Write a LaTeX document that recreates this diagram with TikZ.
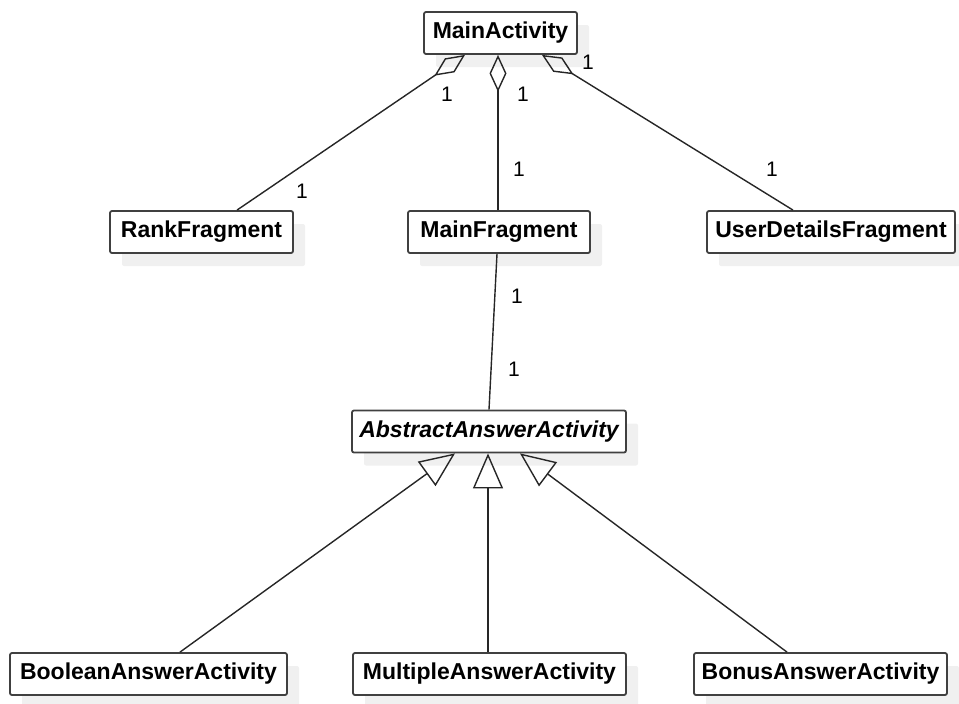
\documentclass[tikz,border=0pt]{standalone}
\usepackage{fontspec}
\setmainfont{Liberation Sans}
\usetikzlibrary{arrows.meta,shadows}

\tikzset{
  classbox/.style = {draw = black!75, line width = 1.8pt, rounded corners = 2pt, fill = white,
    minimum height = 42pt, inner sep = 0pt, font = \fontsize{23}{27}\selectfont\bfseries,
    drop shadow = {shadow xshift = 12pt, shadow yshift = -13pt, fill = black!6, opacity = 1, draw = none}},
  mult/.style = {font = \fontsize{21}{25}\selectfont, inner sep = 0pt},
  link/.style = {draw = black!85, line width = 1.4pt},
  aggr/.style = {link, {Diamond[open, length = 37pt, width = 17pt, line width = 1.4pt]}-},
  inherit/.style = {link, -{Triangle[open, length = 35pt, width = 30pt, line width = 1.4pt]}}
}

\begin{document}
\begin{tikzpicture}[x = 1pt, y = -1pt]
	\useasboundingbox (0,0) rectangle (959,704);
	% classes
	\node [classbox, minimum width = 153pt] (mainact) at (500.5,33) {MainActivity};
	\node [classbox, minimum width = 183pt] (rankfrag) at (201.5,232) {RankFragment};
	\node [classbox, minimum width = 182pt] (mainfrag) at (499,232) {MainFragment};
	\node [classbox, minimum width = 248pt] (userfrag) at (831,232) {UserDetailsFragment};
	\node [classbox, minimum width = 274pt, font = \fontsize{23}{27}\selectfont\bfseries\itshape] (abstractact) at (489,431.5) {AbstractAnswerActivity};
	\node [classbox, minimum width = 277pt] (boolact) at (148.5,674) {BooleanAnswerActivity};
	\node [classbox, minimum width = 273pt] (multact) at (489.5,674) {MultipleAnswerActivity};
	\node [classbox, minimum width = 253pt] (bonusact) at (820.5,674) {BonusAnswerActivity};
	% aggregations
	\draw [aggr] ([xshift = -35.5pt]mainact.south) -- ([xshift = 35.5pt]rankfrag.north);
	\draw [aggr] ([xshift = -2.5pt]mainact.south) -- ([xshift = -1pt]mainfrag.north);
	\draw [aggr] ([xshift = 41.5pt]mainact.south) -- ([xshift = -38pt]userfrag.north);
	\draw [link] ([xshift = -2pt]mainfrag.south) -- (abstractact.north);
	% generalizations
	\draw [inherit] ([xshift = 31.5pt]boolact.north) -- ([xshift = -34pt]abstractact.south);
	\draw [inherit] ([xshift = -1.5pt]multact.north) -- ([xshift = -1pt]abstractact.south);
	\draw [inherit] ([xshift = -33.5pt]bonusact.north) -- ([xshift = 31pt]abstractact.south);
	% multiplicities
	\node [mult] (m1) at (447,94) {1};
	\node [mult] (m2) at (302,191) {1};
	\node [mult] (m3) at (523,94) {1};
	\node [mult] (m4) at (519,169) {1};
	\node [mult] (m5) at (588,62) {1};
	\node [mult] (m6) at (772,169) {1};
	\node [mult] (m7) at (517,296) {1};
	\node [mult] (m8) at (514,369) {1};
\end{tikzpicture}
\end{document}
